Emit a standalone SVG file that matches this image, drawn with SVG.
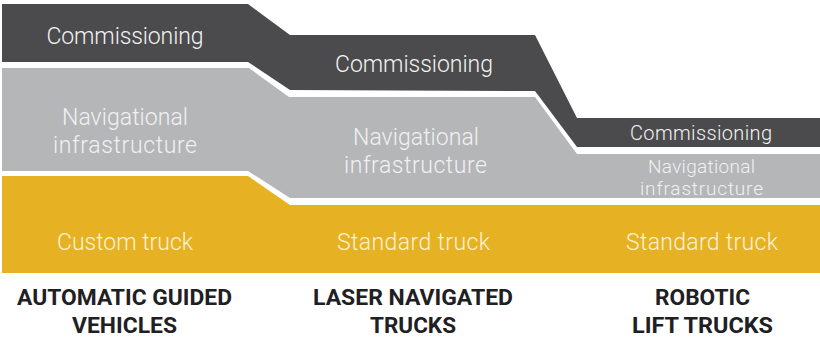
<svg xmlns="http://www.w3.org/2000/svg" width="820" height="337" viewBox="0 0 820 337">
  <style>
    .lt { font-family: Roboto, "Liberation Sans", sans-serif; font-weight: 300; text-anchor: middle; }
    .dk { fill: #4b4b4d; }
    .gr { fill: #b5b6b8; }
    .ye { fill: #e6b223; }
    .tdk { fill: #f2f2f2; font-size: 23px; }
    .tgr { fill: #f1f1f1; font-size: 23px; }
    .tye { fill: #fbf1d6; font-size: 23px; }
    .lbl { font-family: Roboto, "Liberation Sans", sans-serif; font-weight: 700; font-size: 22.5px; fill: #1f2023; text-anchor: middle; }
  </style>
  <rect width="820" height="337" fill="#ffffff"/>
  <g id="band-commissioning">
    <polygon class="dk" points="2,4 248,4 290,35 535,35 577,118 820,118 820,147 577,147 535,91 290,90 248,62 2,62"/>
    <text class="lt tdk" x="125" y="44" textLength="157" lengthAdjust="spacing">Commissioning</text>
    <text class="lt tdk" x="414" y="72" textLength="158" lengthAdjust="spacing">Commissioning</text>
    <text class="lt tdk" x="701" y="140" style="font-size:20px" textLength="142" lengthAdjust="spacing">Commissioning</text>
  </g>
  <g id="band-navigation">
    <polygon class="gr" points="2,68 249,68 289,97 535,97 577,154 820,154 820,198 290,198 248,171 2,171"/>
    <text class="lt tgr" x="125" y="125" textLength="126" lengthAdjust="spacing">Navigational</text>
    <text class="lt tgr" x="125" y="153" textLength="144" lengthAdjust="spacing">infrastructure</text>
    <text class="lt tgr" x="416" y="145" textLength="126" lengthAdjust="spacing">Navigational</text>
    <text class="lt tgr" x="415.5" y="173" textLength="143" lengthAdjust="spacing">infrastructure</text>
    <text class="lt tgr" x="701.5" y="173" style="font-size:19px" textLength="107" lengthAdjust="spacing">Navigational</text>
    <text class="lt tgr" x="701.5" y="195" style="font-size:19px" textLength="123" lengthAdjust="spacing">infrastructure</text>
  </g>
  <g id="band-truck">
    <polygon class="ye" points="2,176 248,176 290,205 820,205 820,273 2,273"/>
    <text class="lt tye" x="125" y="250" textLength="136" lengthAdjust="spacing">Custom truck</text>
    <text class="lt tye" x="413.5" y="250" textLength="153" lengthAdjust="spacing">Standard truck</text>
    <text class="lt tye" x="702" y="250" textLength="152" lengthAdjust="spacing">Standard truck</text>
  </g>
  <g id="label-agv">
    <text class="lbl" x="124.5" y="305" textLength="215" lengthAdjust="spacingAndGlyphs">AUTOMATIC GUIDED</text>
    <text class="lbl" x="124.5" y="333" textLength="105" lengthAdjust="spacingAndGlyphs">VEHICLES</text>
  </g>
  <g id="label-lnt">
    <text class="lbl" x="413" y="305" textLength="200" lengthAdjust="spacingAndGlyphs">LASER NAVIGATED</text>
    <text class="lbl" x="413" y="333" textLength="86" lengthAdjust="spacingAndGlyphs">TRUCKS</text>
  </g>
  <g id="label-rlt">
    <text class="lbl" x="702.5" y="305" textLength="95" lengthAdjust="spacingAndGlyphs">ROBOTIC</text>
    <text class="lbl" x="702.5" y="333" textLength="141" lengthAdjust="spacingAndGlyphs">LIFT TRUCKS</text>
  </g>
  <g id="connectors"/>
</svg>
